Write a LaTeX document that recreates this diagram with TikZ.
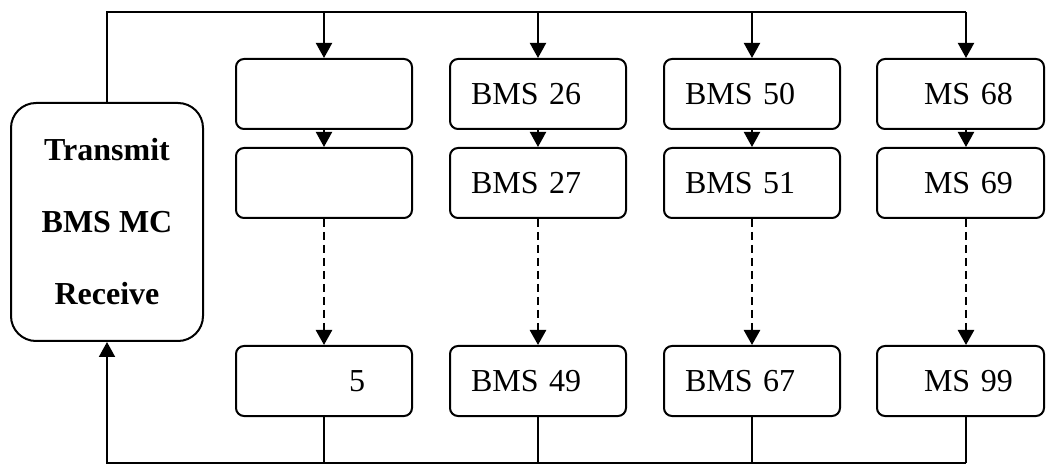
\documentclass[tikz,border=0pt]{standalone}
\usepackage{fontspec}
\setmainfont{Liberation Serif}
\usepackage{tikz}
\usetikzlibrary{arrows.meta}
\tikzset{
  bms/.style  = {draw, line width=1pt, rounded corners=4pt, align=left,
                 minimum width=88pt, text width=67pt, inner xsep=10.5pt,
                 minimum height=35pt},
  ctrl/.style = {draw, line width=1pt, rounded corners=12.5pt, align=center,
                 minimum width=96pt, minimum height=119pt,
                 font=\fontsize{16}{19}\selectfont\bfseries},
  ln/.style   = {line width=1pt},
  ar/.style   = {-{Triangle[length=7.5pt,width=8pt]}, line width=1pt},
  dar/.style  = {ar, line width=1.3pt, dash pattern=on 4pt off 2.5pt},
}
\begin{document}
\begin{tikzpicture}[x=0.5pt, y=-0.5pt, font=\fontsize{16}{19}\selectfont]
\useasboundingbox (0,0) rectangle (1046,465);
\node[ctrl] (mc) at (107,222) {Transmit\\[17pt]BMS MC\\[17pt]Receive};
% first group
\node[bms] (a1) at (324,94) {};
\node[bms] (a2) at (324,183) {};
\node[bms] (a3) at (324,381) {\hspace*{46pt}5};
% second group
\node[bms] (b1) at (538,94) {BMS 26};
\node[bms] (b2) at (538,183) {BMS 27};
\node[bms] (b3) at (538,381) {BMS 49};
% third group
\node[bms] (c1) at (752,94) {BMS 50};
\node[bms] (c2) at (752,183) {BMS 51};
\node[bms] (c3) at (752,381) {BMS 67};
% last group, cut at the right edge
\node[bms, minimum width=83.5pt, text width=62.5pt] (d1) at (960.5,94) {\hspace*{13pt}MS 68};
\node[bms, minimum width=83.5pt, text width=62.5pt] (d2) at (960.5,183) {\hspace*{13pt}MS 69};
\node[bms, minimum width=83.5pt, text width=62.5pt] (d3) at (960.5,381) {\hspace*{13pt}MS 99};
% transmit bus
\coordinate (tl) at (107,12);
\coordinate (tr) at (966,12);
\draw[ln] (mc.north) -- (tl) -- (tr);
\draw[ar] (a1.north |- tl) -- (a1.north);
\draw[ar] (b1.north |- tl) -- (b1.north);
\draw[ar] (c1.north |- tl) -- (c1.north);
\draw[ar] (tr) -- (tr |- d1.north);
\draw[ar] (a1) -- (a2);
\draw[ar] (b1) -- (b2);
\draw[ar] (c1) -- (c2);
\draw[ar] (tr |- d1.south) -- (tr |- d2.north);
\draw[dar] (a2) -- (a3);
\draw[dar] (b2) -- (b3);
\draw[dar] (c2) -- (c3);
\draw[dar] (tr |- d2.south) -- (tr |- d3.north);
% receive bus
\coordinate (bl) at (107,463);
\coordinate (br) at (966,463);
\draw[ar] (br) -- (bl) -- (mc.south);
\draw[ln] (a3.south) -- (a3.south |- bl);
\draw[ln] (b3.south) -- (b3.south |- bl);
\draw[ln] (c3.south) -- (c3.south |- bl);
\draw[ln] (br |- d3.south) -- (br);
\end{tikzpicture}
\end{document}
